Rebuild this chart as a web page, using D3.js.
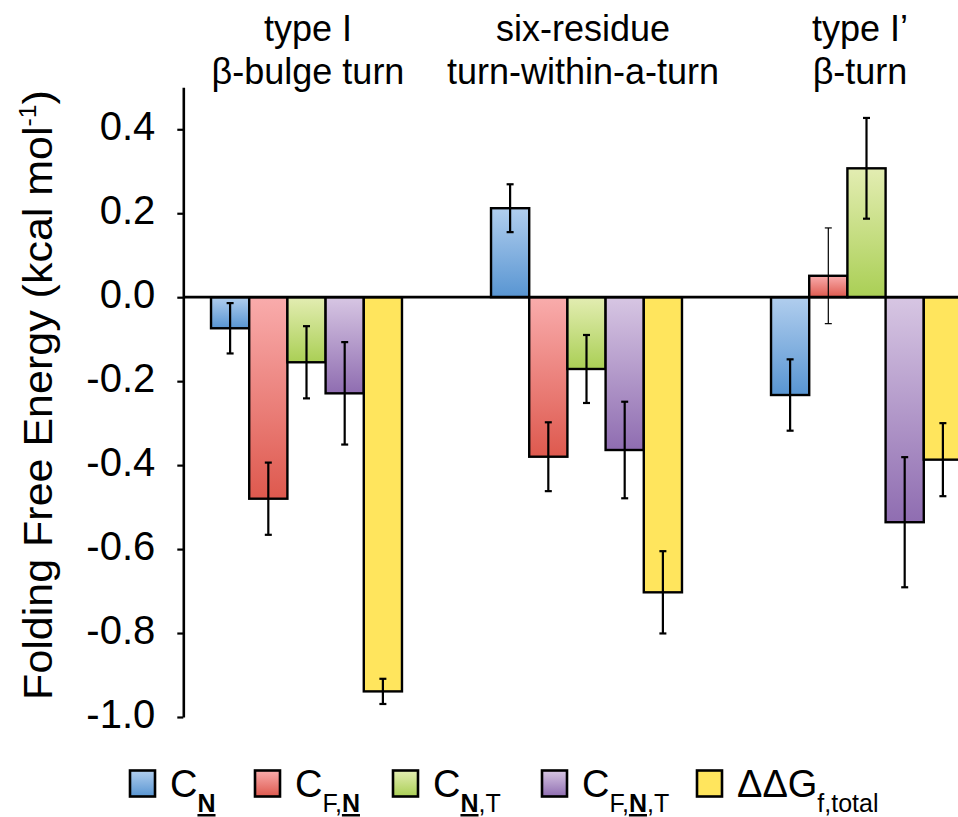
<!DOCTYPE html>
<html>
<head>
<meta charset="utf-8">
<script src="https://cdn.jsdelivr.net/npm/d3@7"></script>
<style>
  html, body { margin: 0; padding: 0; background: #fff; }
  svg { display: block; font-family: "Liberation Sans", Arial, sans-serif; }
</style>
</head>
<body>
<svg id="chart" width="958" height="817"></svg>
<script>
// ---------------- data ----------------
const groups = ["type I β-bulge turn", "six-residue turn-within-a-turn", "type I’ β-turn"];
const groupLine1 = ["type I", "six-residue", "type I’"];
const groupLine2 = ["β-bulge turn", "turn-within-a-turn", "β-turn"];

const seriesKeys = ["CN", "CFN", "CNT", "CFNT", "ddG"];

const valCN   = [-0.074,  0.212, -0.233];
const valCFN  = [-0.480, -0.380,  0.051];
const valCNT  = [-0.155, -0.171,  0.307];
const valCFNT = [-0.229, -0.364, -0.536];
const valDDG  = [-0.939, -0.703, -0.387];

const errCN   = [0.060, 0.057, 0.085];
const errCFN  = [0.086, 0.082, 0.114];
const errCNT  = [0.086, 0.081, 0.120];
const errCFNT = [0.122, 0.115, 0.155];
const errDDG  = [0.030, 0.098, 0.087];

const yTicks = [0.4, 0.2, 0.0, -0.2, -0.4, -0.6, -0.8, -1.0];
const yTickLabels = ["0.4", "0.2", "0.0", "-0.2", "-0.4", "-0.6", "-0.8", "-1.0"];
const yDomain = [-1.0, 0.5];

// ---------------- style ----------------
const colors = {
  CN:   ["#b1ceee", "#5895d2"],
  CFN:  ["#f9acac", "#de594e"],
  CNT:  ["#e3edb2", "#aacf55"],
  CFNT: ["#d7c6e3", "#8f6db1"],
  ddG:  ["#ffe55d", "#ffe55d"]
};

const values = { CN: valCN, CFN: valCFN, CNT: valCNT, CFNT: valCFNT, ddG: valDDG };
const errors = { CN: errCN, CFN: errCFN, CNT: errCNT, CFNT: errCFNT, ddG: errDDG };

const svg = d3.select("#chart");
const W = 958, H = 817;

const defs = svg.append("defs");
seriesKeys.forEach(k => {
  const g = defs.append("linearGradient").attr("id", "grad-" + k)
    .attr("x1", 0).attr("y1", 0).attr("x2", 0).attr("y2", 1);
  g.append("stop").attr("offset", "0%").attr("stop-color", colors[k][0]);
  g.append("stop").attr("offset", "100%").attr("stop-color", colors[k][1]);
});

// ---------------- scales ----------------
const y = d3.scaleLinear().domain(yDomain).range([717, 87.3]);
const x0 = d3.scaleBand().domain(groups).range([166.5, 1006.5])
  .paddingInner(0.318).paddingOuter(0.159);
const x1 = d3.scaleBand().domain(seriesKeys).range([0, x0.bandwidth()]).padding(0);

const axisX = 183.3;

// ---------------- bars ----------------
const barData = [];
groups.forEach((g, gi) => {
  seriesKeys.forEach(k => {
    barData.push({ g, k, v: values[k][gi], e: errors[k][gi] });
  });
});

svg.append("g").selectAll("rect").data(barData).join("rect")
  .attr("x", d => x0(d.g) + x1(d.k))
  .attr("width", x1.bandwidth())
  .attr("y", d => y(Math.max(0, d.v)))
  .attr("height", d => Math.abs(y(d.v) - y(0)))
  .attr("fill", d => `url(#grad-${d.k})`)
  .attr("stroke", "#000")
  .attr("stroke-width", 2.4);

// zero line
svg.append("line")
  .attr("x1", axisX).attr("x2", W + 10)
  .attr("y1", y(0)).attr("y2", y(0))
  .attr("stroke", "#000").attr("stroke-width", 2.8);

// error bars
const eb = svg.append("g").selectAll("g").data(barData).join("g")
  .attr("stroke", "#000")
  .attr("stroke-width", d => ((d.v + d.e) > 0 && (d.v - d.e) < 0 && d.v > 0 && d.v < 0.1) ? 1.2 : 2.2);
eb.append("line")
  .attr("x1", d => x0(d.g) + x1(d.k) + x1.bandwidth() / 2)
  .attr("x2", d => x0(d.g) + x1(d.k) + x1.bandwidth() / 2)
  .attr("y1", d => y(d.v + d.e)).attr("y2", d => y(d.v - d.e));
[1, -1].forEach(s => {
  eb.append("line")
    .attr("x1", d => x0(d.g) + x1(d.k) + x1.bandwidth() / 2 - 3.5)
    .attr("x2", d => x0(d.g) + x1(d.k) + x1.bandwidth() / 2 + 3.5)
    .attr("y1", d => y(d.v + s * d.e)).attr("y2", d => y(d.v + s * d.e));
});

// ---------------- y axis ----------------
const yAxis = d3.axisLeft(y)
  .tickValues(yTicks)
  .tickFormat((d, i) => yTickLabels[i])
  .tickSize(6)
  .tickSizeOuter(0)
  .tickPadding(22);
const ya = svg.append("g").attr("transform", `translate(${axisX},0)`).call(yAxis);
ya.select(".domain").attr("stroke", "#000").attr("stroke-width", 2.6);
ya.selectAll(".tick line").attr("stroke", "#000").attr("stroke-width", 2.2);
ya.selectAll(".tick text")
  .attr("font-family", "Liberation Sans, Arial, sans-serif")
  .attr("font-size", 40)
  .attr("fill", "#000")
  .attr("dy", "0.25em");

// y axis title
const yt = svg.append("text")
  .attr("text-anchor", "middle")
  .attr("font-size", 40)
  .attr("fill", "#000");
yt.append("tspan").text("Folding Free Energy (kcal mol");
yt.append("tspan").attr("font-size", 23).attr("dy", -16).text("-1");
yt.append("tspan").attr("dy", 16).text(")");
const ytLen = yt.node().getComputedTextLength();
const ytScale = 610 / ytLen;
yt.attr("transform", `translate(52,395) rotate(-90) scale(${ytScale},1)`);

// ---------------- group titles ----------------
const titleDx = [1.5, -3.5, -6.5];
groups.forEach((g, gi) => {
  const cx = x0(g) + x0.bandwidth() / 2 + titleDx[gi];
  svg.append("text").attr("x", cx).attr("y", 41).attr("text-anchor", "middle")
    .attr("font-size", 36).attr("fill", "#000").text(groupLine1[gi]);
  svg.append("text").attr("x", cx).attr("y", 84).attr("text-anchor", "middle")
    .attr("font-size", 36).attr("fill", "#000").text(groupLine2[gi]);
});

// ---------------- legend ----------------
const legendX = [130, 255, 393, 542, 697];
const legendMain = ["C", "C", "C", "C", "ΔΔG"];
const legendSub = [
  [["N", true]],
  [["F,", false], ["N", true]],
  [["N", true], [",T", false]],
  [["F,", false], ["N", true], [",T", false]],
  [["f,total", false]]
];
seriesKeys.forEach((k, i) => {
  svg.append("rect")
    .attr("x", legendX[i]).attr("y", 770.5)
    .attr("width", 25).attr("height", 26)
    .attr("fill", `url(#grad-${k})`)
    .attr("stroke", "#000").attr("stroke-width", 2.6);
  const t = svg.append("text")
    .attr("x", legendX[i] + 40).attr("y", 797)
    .attr("font-size", 38).attr("fill", "#000");
  t.append("tspan").text(legendMain[i]);
  legendSub[i].forEach((p, j) => {
    const ts = t.append("tspan").attr("font-size", 25).text(p[0]);
    if (j === 0) ts.attr("dy", 15);
    if (p[1]) ts.attr("font-weight", "bold").attr("text-decoration", "underline");
  });
});
</script>
</body>
</html>
